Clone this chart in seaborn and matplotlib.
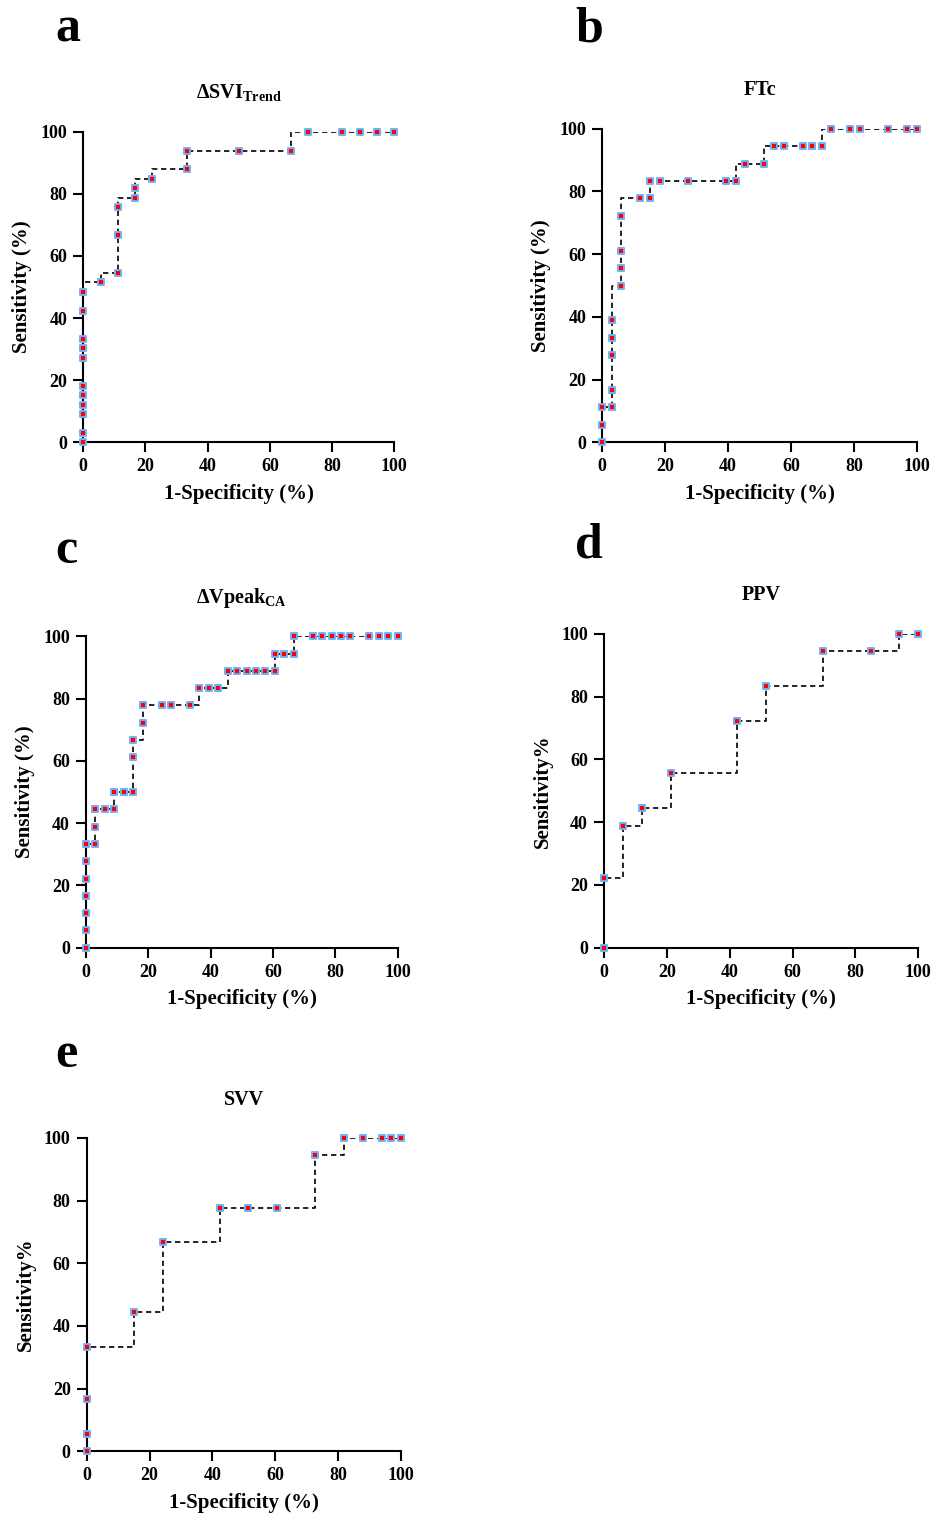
import matplotlib
matplotlib.use("Agg")
import matplotlib.pyplot as plt
import seaborn as sns
import pandas as pd

# ---------------- data ----------------
a_x = [0, 0, 0, 0, 0, 0, 0, 0, 0, 0, 0, 5.56, 11.11, 11.11, 11.11, 16.67, 16.67, 22.22,
       33.33, 33.33, 50.0, 66.67, 72.22, 83.33, 88.89, 94.44, 100]
a_y = [0, 3.03, 9.09, 12.12, 15.15, 18.18, 27.27, 30.30, 33.33, 42.42, 48.48, 51.52, 54.55,
       66.67, 75.76, 78.79, 81.82, 84.85, 87.88, 93.94, 93.94, 93.94, 100, 100, 100, 100, 100]

b_x = [0, 0, 0, 3.03, 3.03, 3.03, 3.03, 3.03, 6.06, 6.06, 6.06, 6.06, 12.12, 15.15, 15.15,
       18.18, 27.27, 39.39, 42.42, 45.45, 51.52, 54.55, 57.58, 63.64, 66.67, 69.70, 72.73,
       78.79, 81.82, 90.91, 96.97, 100]
b_y = [0, 5.56, 11.11, 11.11, 16.67, 27.78, 33.33, 38.89, 50.0, 55.56, 61.11, 72.22, 77.78,
       77.78, 83.33, 83.33, 83.33, 83.33, 83.33, 88.89, 88.89, 94.44, 94.44, 94.44, 94.44,
       94.44, 100, 100, 100, 100, 100, 100]

c_x = [0, 0, 0, 0, 0, 0, 0, 3.03, 3.03, 3.03, 6.06, 9.09, 9.09, 12.12, 15.15, 15.15, 15.15,
       18.18, 18.18, 24.24, 27.27, 33.33, 36.36, 39.39, 42.42, 45.45, 48.48, 51.52, 54.55,
       57.58, 60.61, 60.61, 63.64, 66.67, 66.67, 72.73, 75.76, 78.79, 81.82, 84.85, 90.91,
       93.94, 96.97, 100]
c_y = [0, 5.56, 11.11, 16.67, 22.22, 27.78, 33.33, 33.33, 38.89, 44.44, 44.44, 44.44, 50,
       50, 50, 61.11, 66.67, 72.22, 77.78, 77.78, 77.78, 77.78, 83.33, 83.33, 83.33, 88.89,
       88.89, 88.89, 88.89, 88.89, 88.89, 94.44, 94.44, 94.44, 100, 100, 100, 100, 100, 100,
       100, 100, 100, 100]

d_x = [0, 0, 6.06, 12.12, 21.21, 42.42, 51.52, 69.70, 84.85, 93.94, 100]
d_y = [0, 22.22, 38.89, 44.44, 55.56, 72.22, 83.33, 94.44, 94.44, 100, 100]

e_x = [0, 0, 0, 0, 15.15, 24.24, 42.42, 51.52, 60.61, 72.73, 81.82, 87.88, 93.94, 96.97, 100]
e_y = [0, 5.56, 16.67, 33.33, 44.44, 66.67, 77.78, 77.78, 77.78, 94.44, 100, 100, 100, 100, 100]

ticks = [0, 20, 40, 60, 80, 100]
letters = ["a", "b", "c", "d", "e"]
titles = [r"ΔSVI$_{\mathbf{Trend}}$", "FTc", r"ΔVpeak$_{\mathbf{CA}}$", "PPV", "SVV"]
ylabels = ["Sensitivity (%)", "Sensitivity (%)", "Sensitivity (%)", "Sensitivity%", "Sensitivity%"]
xlabel = "1-Specificity (%)"

# ---------------- style ----------------
sns.set_style("ticks")
plt.rcParams["font.family"] = ["Liberation Serif", "DejaVu Serif"]
plt.rcParams["font.weight"] = "bold"
plt.rcParams["mathtext.fontset"] = "custom"
plt.rcParams["mathtext.rm"] = "Liberation Serif"
plt.rcParams["mathtext.bf"] = "Liberation Serif:bold"
plt.rcParams["axes.linewidth"] = 1.5
for k in ["text.color", "axes.labelcolor", "xtick.color", "ytick.color", "axes.edgecolor"]:
    plt.rcParams[k] = "black"

W, H = 937, 1524
fig = plt.figure(figsize=(W / 100, H / 100), dpi=100)

# axes boxes in pixels: (x0, x100, y0, y100)
boxes = [
    (83.3, 394.3, 442.3, 131.7),
    (602.3, 917.0, 442.3, 128.7),
    (86.0, 397.7, 947.7, 636.3),
    (604.0, 918.3, 947.7, 633.7),
    (86.7, 400.7, 1451.3, 1138.0),
]
letter_pos = [(55, 41), (575, 41), (55, 563), (575, 558), (55, 1067)]
styles = ["steps-pre", "steps-pre", "steps-post", "steps-post", "steps-post"]
datasets = [(a_x, a_y), (b_x, b_y), (c_x, c_y), (d_x, d_y), (e_x, e_y)]

for i, ((x0, x1, y0, y1), (xs, ys)) in enumerate(zip(boxes, datasets)):
    ax = fig.add_axes([x0 / W, 1 - y0 / H, (x1 - x0) / W, (y0 - y1) / H])
    df = pd.DataFrame({"x": xs, "y": ys})
    sns.lineplot(data=df, x="x", y="y", ax=ax, estimator=None, sort=False,
                 color="black", linewidth=1.2, drawstyle=styles[i],
                 dashes=False, linestyle=(0, (3.2, 2.2)), zorder=2)
    sns.scatterplot(data=df, x="x", y="y", ax=ax, marker="s", s=24,
                    color="#FF0000", edgecolor="#72B0F5", linewidth=1.4,
                    zorder=4, clip_on=False)
    ax.set_xlim(0, 100)
    ax.set_ylim(0, 100)
    ax.set_xticks(ticks)
    ax.set_yticks(ticks)
    ax.set_xticklabels([str(t) for t in ticks], fontsize=13, fontweight="bold")
    ax.set_yticklabels([str(t) for t in ticks], fontsize=13, fontweight="bold")
    ax.tick_params(axis="both", length=7.5, width=1.5, direction="out", pad=4, colors="black")
    for side in ["top", "right"]:
        ax.spines[side].set_visible(False)
    for side in ["left", "bottom"]:
        ax.spines[side].set_color("black")
        ax.spines[side].set_linewidth(1.5)
    ax.set_xlabel(xlabel, fontsize=15, fontweight="bold", labelpad=6)
    ax.set_ylabel(ylabels[i], fontsize=15, fontweight="bold", labelpad=6)
    ax.set_title(titles[i], fontsize=14.5, fontweight="bold", pad=24)
    lx, ly = letter_pos[i]
    fig.text(lx / W, 1 - ly / H, letters[i], fontsize=36, fontweight="bold",
             ha="left", va="baseline")

fig.savefig("out.png", dpi=100)
